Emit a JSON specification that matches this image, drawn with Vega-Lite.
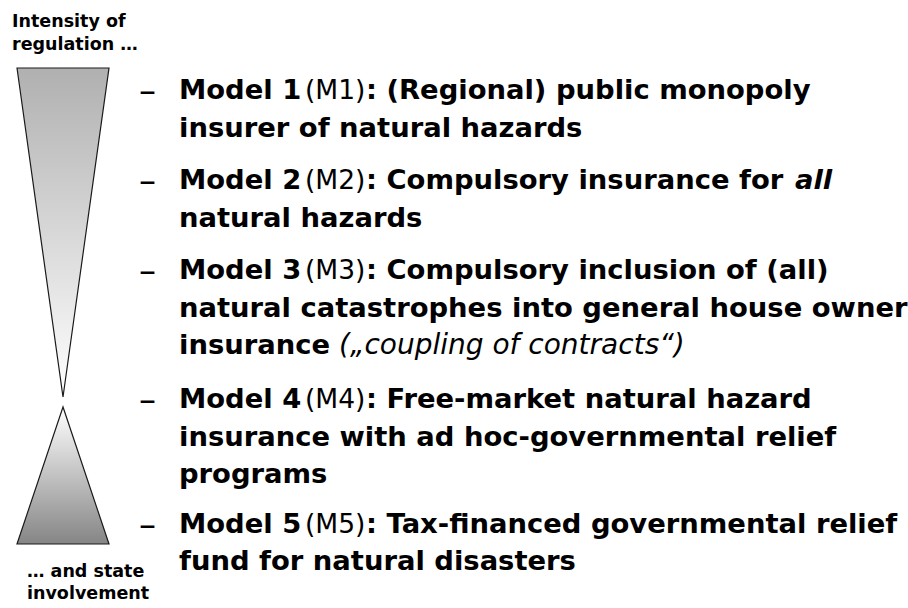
{
  "$schema": "https://vega.github.io/schema/vega-lite/v6.json",
  "width": 908,
  "height": 608,
  "padding": 0,
  "autosize": {"type": "none"},
  "background": "white",
  "config": {"view": {"stroke": null}},
  "datasets": {
    "top": [
      {"y": 68, "xl": 17, "xr": 109},
      {"y": 397, "xl": 63, "xr": 63}
    ],
    "bottom": [
      {"y": 407, "xl": 63, "xr": 63},
      {"y": 544, "xl": 17, "xr": 109}
    ],
    "texts": [
      {"x": 139, "y": 99, "t": "–", "s": "d"},
      {"x": 179, "y": 99, "t": "Model 1", "s": "b"},
      {"x": 305, "y": 99, "t": "(M1)", "s": "r"},
      {"x": 366, "y": 99, "t": ": (Regional) public monopoly", "s": "b"},
      {"x": 179, "y": 136.5, "t": "insurer of natural hazards", "s": "b"},
      {"x": 139, "y": 189, "t": "–", "s": "d"},
      {"x": 179, "y": 189, "t": "Model 2", "s": "b"},
      {"x": 305, "y": 189, "t": "(M2)", "s": "r"},
      {"x": 366, "y": 189, "t": ": Compulsory insurance for", "s": "b"},
      {"x": 795, "y": 189, "t": "all", "s": "bi"},
      {"x": 179, "y": 226.5, "t": "natural hazards", "s": "b"},
      {"x": 139, "y": 279, "t": "–", "s": "d"},
      {"x": 179, "y": 279, "t": "Model 3", "s": "b"},
      {"x": 305, "y": 279, "t": "(M3)", "s": "r"},
      {"x": 366, "y": 279, "t": ": Compulsory inclusion of (all)", "s": "b"},
      {"x": 179, "y": 316.5, "t": "natural catastrophes into general house owner", "s": "b"},
      {"x": 179, "y": 354, "t": "insurance", "s": "b"},
      {"x": 339, "y": 354, "t": "(„coupling of contracts“)", "s": "i"},
      {"x": 139, "y": 408, "t": "–", "s": "d"},
      {"x": 179, "y": 408, "t": "Model 4", "s": "b"},
      {"x": 305, "y": 408, "t": "(M4)", "s": "r"},
      {"x": 366, "y": 408, "t": ": Free-market natural hazard", "s": "b"},
      {"x": 179, "y": 445.5, "t": "insurance with ad hoc-governmental relief", "s": "b"},
      {"x": 179, "y": 483, "t": "programs", "s": "b"},
      {"x": 139, "y": 532.5, "t": "–", "s": "d"},
      {"x": 179, "y": 532.5, "t": "Model 5", "s": "b"},
      {"x": 305, "y": 532.5, "t": "(M5)", "s": "r"},
      {"x": 366, "y": 532.5, "t": ": Tax-financed governmental relief", "s": "b"},
      {"x": 179, "y": 570, "t": "fund for natural disasters", "s": "b"},
      {"x": 12, "y": 27, "t": "Intensity of", "s": "l"},
      {"x": 12, "y": 50, "t": "regulation …", "s": "l"},
      {"x": 27, "y": 577, "t": "… and state", "s": "l"},
      {"x": 27, "y": 599, "t": "involvement", "s": "l"}
    ]
  },
  "layer": [
    {
      "data": {"name": "top"},
      "mark": {
        "type": "area",
        "orient": "horizontal",
        "fill": {"gradient": "linear", "x1": 0, "y1": 0, "x2": 0, "y2": 1,
          "stops": [{"offset": 0, "color": "#b0b0b0"}, {"offset": 1, "color": "#ffffff"}]},
        "fillOpacity": 1,
        "stroke": "#1a1a1a",
        "strokeWidth": 1.2
      },
      "encoding": {
        "y": {"field": "y", "type": "quantitative", "scale": {"domain": [0, 608], "reverse": true, "nice": false, "zero": false}, "axis": null},
        "x": {"field": "xl", "type": "quantitative", "scale": {"domain": [0, 908], "nice": false, "zero": false}, "axis": null},
        "x2": {"field": "xr"}
      }
    },
    {
      "data": {"name": "bottom"},
      "mark": {
        "type": "area",
        "orient": "horizontal",
        "fill": {"gradient": "linear", "x1": 0, "y1": 0, "x2": 0, "y2": 1,
          "stops": [{"offset": 0, "color": "#ffffff"}, {"offset": 1, "color": "#858585"}]},
        "fillOpacity": 1,
        "stroke": "#1a1a1a",
        "strokeWidth": 1.2
      },
      "encoding": {
        "y": {"field": "y", "type": "quantitative", "scale": {"domain": [0, 608], "reverse": true, "nice": false, "zero": false}, "axis": null},
        "x": {"field": "xl", "type": "quantitative", "scale": {"domain": [0, 908], "nice": false, "zero": false}, "axis": null},
        "x2": {"field": "xr"}
      }
    },
    {
      "data": {"name": "texts"},
      "transform": [{"filter": "datum.s == 'b'"}],
      "mark": {"type": "text", "font": "DejaVu Sans", "fontWeight": "bold", "fontSize": 27.4, "align": "left", "baseline": "alphabetic", "color": "#000000"},
      "encoding": {
        "x": {"field": "x", "type": "quantitative", "scale": {"domain": [0, 908], "nice": false, "zero": false}, "axis": null},
        "y": {"field": "y", "type": "quantitative", "scale": {"domain": [0, 608], "reverse": true, "nice": false, "zero": false}, "axis": null},
        "text": {"field": "t"}
      }
    },
    {
      "data": {"name": "texts"},
      "transform": [{"filter": "datum.s == 'r'"}],
      "mark": {"type": "text", "font": "DejaVu Sans", "fontWeight": "normal", "fontSize": 26.5, "align": "left", "baseline": "alphabetic", "color": "#000000"},
      "encoding": {
        "x": {"field": "x", "type": "quantitative", "scale": {"domain": [0, 908], "nice": false, "zero": false}, "axis": null},
        "y": {"field": "y", "type": "quantitative", "scale": {"domain": [0, 608], "reverse": true, "nice": false, "zero": false}, "axis": null},
        "text": {"field": "t"}
      }
    },
    {
      "data": {"name": "texts"},
      "transform": [{"filter": "datum.s == 'd'"}],
      "mark": {"type": "text", "font": "DejaVu Sans", "fontWeight": "normal", "fontSize": 34, "dy": 3, "align": "left", "baseline": "alphabetic", "color": "#000000"},
      "encoding": {
        "x": {"field": "x", "type": "quantitative", "scale": {"domain": [0, 908], "nice": false, "zero": false}, "axis": null},
        "y": {"field": "y", "type": "quantitative", "scale": {"domain": [0, 608], "reverse": true, "nice": false, "zero": false}, "axis": null},
        "text": {"field": "t"}
      }
    },
    {
      "data": {"name": "texts"},
      "transform": [{"filter": "datum.s == 'i'"}],
      "mark": {"type": "text", "font": "DejaVu Sans", "fontWeight": "normal", "fontStyle": "italic", "fontSize": 28, "align": "left", "baseline": "alphabetic", "color": "#000000"},
      "encoding": {
        "x": {"field": "x", "type": "quantitative", "scale": {"domain": [0, 908], "nice": false, "zero": false}, "axis": null},
        "y": {"field": "y", "type": "quantitative", "scale": {"domain": [0, 608], "reverse": true, "nice": false, "zero": false}, "axis": null},
        "text": {"field": "t"}
      }
    },
    {
      "data": {"name": "texts"},
      "transform": [{"filter": "datum.s == 'bi'"}],
      "mark": {"type": "text", "font": "DejaVu Sans", "fontWeight": "bold", "fontStyle": "italic", "fontSize": 27.4, "align": "left", "baseline": "alphabetic", "color": "#000000"},
      "encoding": {
        "x": {"field": "x", "type": "quantitative", "scale": {"domain": [0, 908], "nice": false, "zero": false}, "axis": null},
        "y": {"field": "y", "type": "quantitative", "scale": {"domain": [0, 608], "reverse": true, "nice": false, "zero": false}, "axis": null},
        "text": {"field": "t"}
      }
    },
    {
      "data": {"name": "texts"},
      "transform": [{"filter": "datum.s == 'l'"}],
      "mark": {"type": "text", "font": "DejaVu Sans", "fontWeight": "bold", "fontSize": 17.5, "align": "left", "baseline": "alphabetic", "color": "#000000"},
      "encoding": {
        "x": {"field": "x", "type": "quantitative", "scale": {"domain": [0, 908], "nice": false, "zero": false}, "axis": null},
        "y": {"field": "y", "type": "quantitative", "scale": {"domain": [0, 608], "reverse": true, "nice": false, "zero": false}, "axis": null},
        "text": {"field": "t"}
      }
    }
  ]
}
